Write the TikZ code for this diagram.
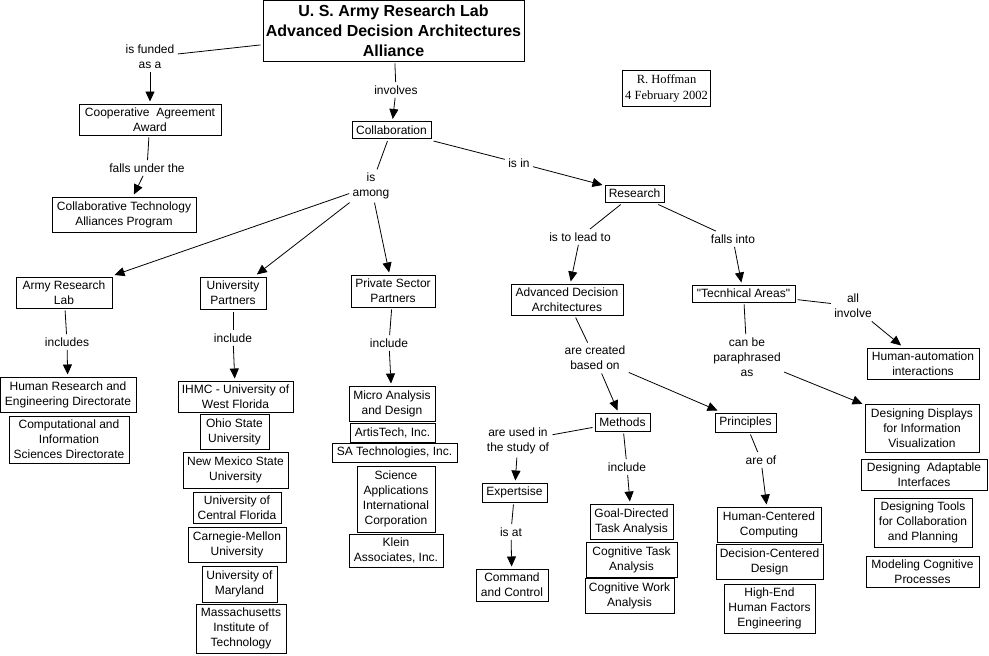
\documentclass[tikz,border=0pt]{standalone}
\usepackage{fontspec}
\setmainfont{Liberation Sans}
\newfontfamily\timesf{Liberation Serif}
\usetikzlibrary{arrows.meta}
\newcommand\sq{\XeTeXglyph\XeTeXcharglyph"22\relax}
\begin{document}
\begin{tikzpicture}[x=1pt,y=-1pt,
  box/.style={draw, line width=0.8pt, align=center, inner sep=1pt, outer sep=2.5pt,
    font=\fontsize{12}{15}\selectfont},
  lbl/.style={align=center, inner sep=2.5pt, outer sep=1pt, font=\fontsize{12}{15}\selectfont},
  ln/.style={line width=0.8pt},
  arr/.style={line width=0.8pt, -{Triangle[length=10pt,width=9pt]}}
]
\useasboundingbox (0,0) rectangle (989,656);
\newcommand\bx[6]{\node[box, minimum width=#4pt, minimum height=#5pt] (#1) at (#2,#3) {#6};}
% boxes
\node[box, minimum width=261pt, minimum height=61pt, font=\fontsize{16}{20}\selectfont\bfseries] (title) at (393.5,30.5) {U. S. Army Research Lab\\Advanced Decision Architectures\\Alliance};
\node[box, line width=0.6pt, minimum width=88pt, minimum height=36pt, font=\fontsize{12.5}{16}\selectfont\timesf] (hoff) at (666.5,88) {R. Hoffman\\4 February 2002};
\bx{coop}{150}{119.5}{142}{31}{Cooperative\ \ Agreement\\Award}
\bx{ctap}{124}{214.5}{144}{35}{Collaborative Technology\\Alliances Program}
\bx{colab}{391.5}{130}{79}{17}{Collaboration}
\bx{research}{634.5}{193.5}{59}{17}{Research}
\bx{ada}{567}{299.5}{112}{31}{Advanced Decision\\Architectures}
\bx{ta}{743.5}{293.5}{103}{17}{\sq Tecnhical Areas\sq}
\bx{ha}{923}{363.5}{112}{31}{Human-automation\\interactions}
\bx{methods}{622.5}{422}{55}{18}{Methods}
\bx{princ}{745.5}{422.5}{61}{19}{Principles}
\bx{dd}{922}{428}{114}{48}{Designing Displays\\for Information\\Visualization}
\bx{dai}{924}{474.5}{126}{31}{Designing\ \ Adaptable\\Interfaces}
\bx{dtc}{923}{522.5}{98}{49}{Designing Tools\\for Collaboration\\and Planning}
\bx{mcp}{922.5}{571.5}{113}{31}{Modeling Cognitive\\Processes}
\bx{exp}{514.5}{492.5}{65}{19}{Expertsise}
\bx{ctwo}{512}{585}{72}{32}{Command\\and Control}
\bx{gdta}{631.5}{521.5}{83}{35}{Goal-Directed\\Task Analysis}
\bx{cta}{631.5}{559.5}{91}{35}{Cognitive Task\\Analysis}
\bx{cwa}{629.5}{595.5}{89}{35}{Cognitive Work\\Analysis}
\bx{hcc}{769}{524.5}{104}{35}{Human-Centered\\Computing}
\bx{dcd}{769.5}{561.5}{107}{35}{Decision-Centered\\Design}
\bx{hehf}{769.5}{608.5}{91}{49}{High-End\\Human Factors\\Engineering}
\bx{arl}{64}{292.5}{96}{31}{Army Research\\Lab}
\bx{hred}{68}{394.5}{136}{35}{Human Research and\\Engineering Directorate}
\bx{cisd}{69}{439.5}{120}{47}{Computational and\\Information\\Sciences Directorate}
\bx{up}{233}{293}{66}{32}{University\\Partners}
\bx{ihmc}{235.5}{396.5}{115}{31}{IHMC - University of\\West Florida}
\bx{osu}{234.5}{431.5}{69}{35}{Ohio State\\University}
\bx{nmsu}{235.5}{470}{105}{36}{New Mexico State\\University}
\bx{ucf}{237}{507.5}{88}{31}{University of\\Central Florida}
\bx{cmu}{237}{544.5}{98}{35}{Carnegie-Mellon\\University}
\bx{umd}{239.5}{584}{75}{36}{University of\\Maryland}
\bx{mit}{241}{628.5}{90}{49}{Massachusetts\\Institute of\\Technology}
\bx{psp}{393}{291}{84}{32}{Private Sector\\Partners}
\bx{mad}{392}{403.5}{86}{35}{Micro Analysis\\and Design}
\bx{artis}{392.5}{432.5}{85}{19}{ArtisTech, Inc.}
\bx{sat}{394.5}{452.5}{125}{19}{SA Technologies, Inc.}
\bx{saic}{396}{499}{78}{66}{Science\\Applications\\International\\Corporation}
\bx{klein}{396}{550.5}{94}{33}{Klein\\Associates, Inc.}
% labels
\node[lbl] (lfund) at (150,57) {is funded\\as a};
\node[lbl] (linv) at (396,90) {involves};
\node[lbl] (lfall) at (147,168) {falls under the};
\node[lbl] (lamong) at (371,186) {is\\among};
\node[lbl] (lisin) at (519,163) {is in};
\node[lbl] (llead) at (580,237) {is to lead to};
\node[lbl] (linto) at (733,239) {falls into};
\node[lbl] (lall) at (853,306) {all\\involve};
\node[lbl] (lcreated) at (595,358) {are created\\based on};
\node[lbl] (lpara) at (747,357) {can be\\paraphrased\\as};
\node[lbl] (lused) at (518,441) {are used in\\the study of};
\node[lbl] (lisat) at (511,532) {is at};
\node[lbl] (lincm) at (627,467) {include};
\node[lbl] (lareof) at (761,460) {are of};
\node[lbl] (lincl) at (67,342) {includes};
\node[lbl] (lincu) at (233,338) {include};
\node[lbl] (lincp) at (389,343) {include};
% connectors
\draw[ln] (title) -- (lfund); \draw[arr] (lfund) -- (coop);
\draw[ln] (title) -- (linv); \draw[arr] (linv) -- (colab);
\draw[ln] (coop) -- (lfall); \draw[arr] (lfall) -- (ctap);
\draw[ln] (colab) -- (lamong);
\draw[arr] (lamong) -- (arl);
\draw[arr] (lamong) -- (up);
\draw[arr] (lamong) -- (psp);
\draw[ln] (colab.south east) -- (lisin); \draw[arr] (lisin) -- (research);
\draw[ln] (research) -- (llead); \draw[arr] (llead) -- (ada);
\draw[ln] (research) -- (linto); \draw[arr] (linto) -- (ta);
\draw[ln] (ta) -- (lall); \draw[arr] (lall) -- (ha);
\draw[ln] (ada) -- (lcreated);
\draw[arr] (lcreated) -- (methods);
\draw[arr] (lcreated) -- (princ);
\draw[ln] (ta) -- (lpara); \draw[arr] (lpara) -- (dd);
\draw[ln] (methods) -- (lused); \draw[arr] (lused) -- (exp);
\draw[ln] (exp) -- (lisat); \draw[arr] (lisat) -- (ctwo);
\draw[ln] (methods) -- (lincm); \draw[arr] (lincm) -- (gdta);
\draw[ln] (princ) -- (lareof); \draw[arr] (lareof) -- (hcc);
\draw[ln] (arl) -- (lincl); \draw[arr] (lincl) -- (hred);
\draw[ln] (up) -- (lincu); \draw[arr] (lincu) -- (ihmc);
\draw[ln] (psp) -- (lincp); \draw[arr] (lincp) -- (mad);
\end{tikzpicture}
\end{document}
